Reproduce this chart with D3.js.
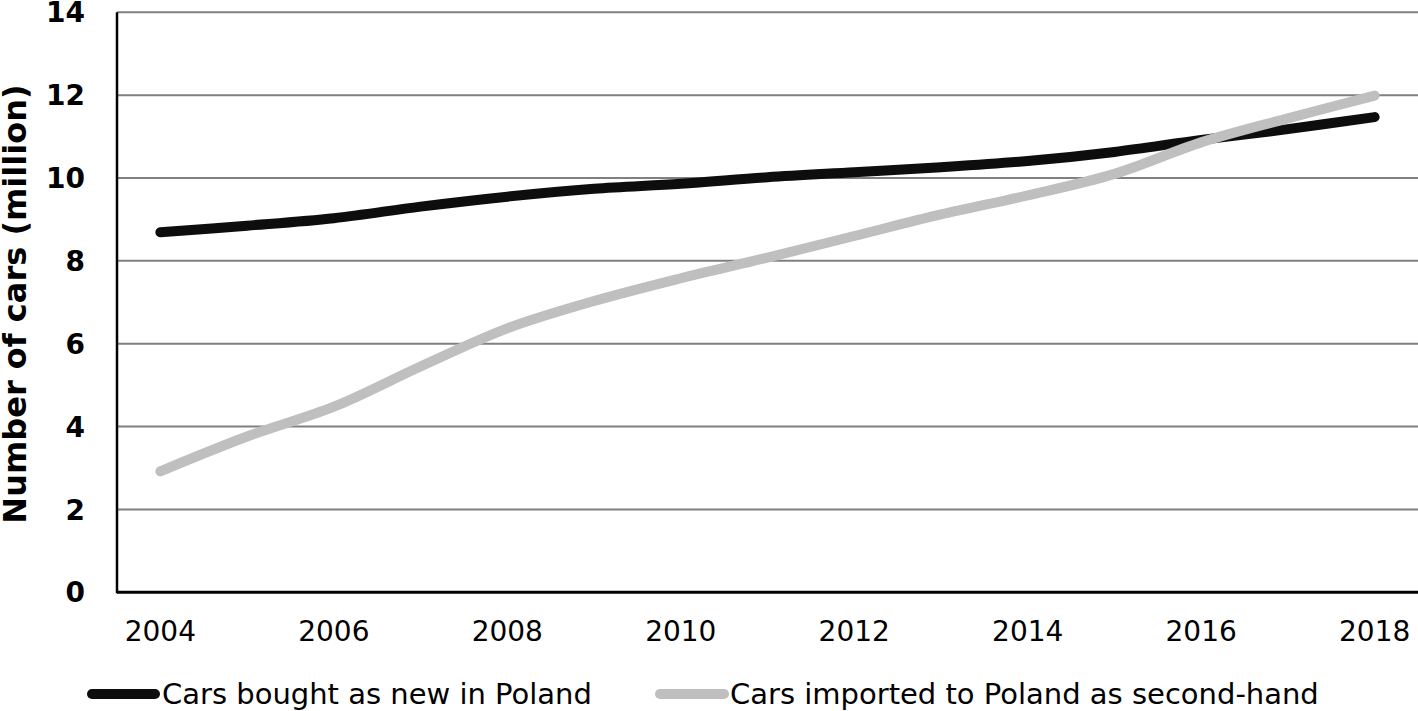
<!DOCTYPE html>
<html>
<head>
<meta charset="utf-8">
<script src="https://cdn.jsdelivr.net/npm/d3@7"></script>
<style>
  html, body { margin: 0; padding: 0; background: #fff; }
  svg { display: block; }
</style>
</head>
<body>
<svg id="chart" width="1418" height="711"></svg>
<script>
const years = [2004, 2005, 2006, 2007, 2008, 2009, 2010, 2011, 2012, 2013, 2014, 2015, 2016, 2017, 2018];
const newCars = [8.69, 8.85, 9.03, 9.31, 9.55, 9.74, 9.86, 10.02, 10.14, 10.26, 10.41, 10.63, 10.92, 11.18, 11.47];
const importedCars = [2.92, 3.76, 4.48, 5.45, 6.37, 7.03, 7.58, 8.08, 8.6, 9.12, 9.58, 10.1, 10.86, 11.44, 11.99];
const yTicks = [0, 2, 4, 6, 8, 10, 12, 14];
const xTickLabels = [2004, 2006, 2008, 2010, 2012, 2014, 2016, 2018];
const seriesNames = ["Cars bought as new in Poland", "Cars imported to Poland as second-hand"];
const yTitle = "Number of cars (million)";

const svg = d3.select("#chart");
const mLeft = 117, mRight = 1418, mTop = 12.3, mBottom = 592.3;

const x = d3.scaleBand().domain(years).range([mLeft, mRight]);
const y = d3.scaleLinear().domain([0, 14]).range([mBottom, mTop]);
const cx = d => x(d) + x.bandwidth() / 2;

// gridlines
svg.append("g").selectAll("line").data(yTicks.filter(t => t > 0)).join("line")
  .attr("x1", mLeft).attr("x2", mRight)
  .attr("y1", d => y(d)).attr("y2", d => y(d))
  .attr("stroke", "#808080").attr("stroke-width", 2);

// y tick labels
svg.append("g").selectAll("text").data(yTicks).join("text")
  .attr("x", 85).attr("y", d => y(d))
  .attr("dy", "0.36em")
  .attr("text-anchor", "end")
  .attr("font-family", "DejaVu Sans, Verdana, sans-serif")
  .attr("font-weight", "bold")
  .attr("font-size", 28)
  .text(d => d);

// x tick labels
svg.append("g").selectAll("text").data(xTickLabels).join("text")
  .attr("x", d => cx(d)).attr("y", 641)
  .attr("text-anchor", "middle")
  .attr("font-family", "DejaVu Sans, Verdana, sans-serif")
  .attr("font-size", 28)
  .text(d => d);

// y title
svg.append("text")
  .attr("transform", "translate(26,304) rotate(-90)")
  .attr("text-anchor", "middle")
  .attr("font-family", "DejaVu Sans, Verdana, sans-serif")
  .attr("font-weight", "bold")
  .attr("font-size", 32)
  .text(yTitle);

// axes
svg.append("line").attr("x1", mLeft).attr("x2", mLeft).attr("y1", mTop).attr("y2", mBottom + 1)
  .attr("stroke", "#000").attr("stroke-width", 2.5);
svg.append("line").attr("x1", mLeft).attr("x2", mRight).attr("y1", mBottom).attr("y2", mBottom)
  .attr("stroke", "#000").attr("stroke-width", 3);

const line = d3.line().x((d, i) => cx(years[i])).y(d => y(d)).curve(d3.curveCatmullRom.alpha(0.5));

const series = [
  { name: seriesNames[0], values: newCars, color: "#0d0d0d" },
  { name: seriesNames[1], values: importedCars, color: "#bfbfbf" }
];

svg.append("g").selectAll("path").data(series).join("path")
  .attr("d", d => line(d.values))
  .attr("fill", "none")
  .attr("stroke", d => d.color)
  .attr("stroke-width", 10)
  .attr("stroke-linecap", "round")
  .attr("stroke-linejoin", "round");

// legend
const legendItems = [
  { s: series[0], x1: 92, x2: 155, tx: 162 },
  { s: series[1], x1: 660, x2: 724, tx: 730 }
];
const lg = svg.append("g");
legendItems.forEach(it => {
  lg.append("line").attr("x1", it.x1).attr("x2", it.x2).attr("y1", 694).attr("y2", 694)
    .attr("stroke", it.s.color).attr("stroke-width", 10).attr("stroke-linecap", "round");
  lg.append("text").attr("x", it.tx).attr("y", 704)
    .attr("font-family", "DejaVu Sans, Verdana, sans-serif")
    .attr("font-size", 29)
    .text(it.s.name);
});
</script>
</body>
</html>
